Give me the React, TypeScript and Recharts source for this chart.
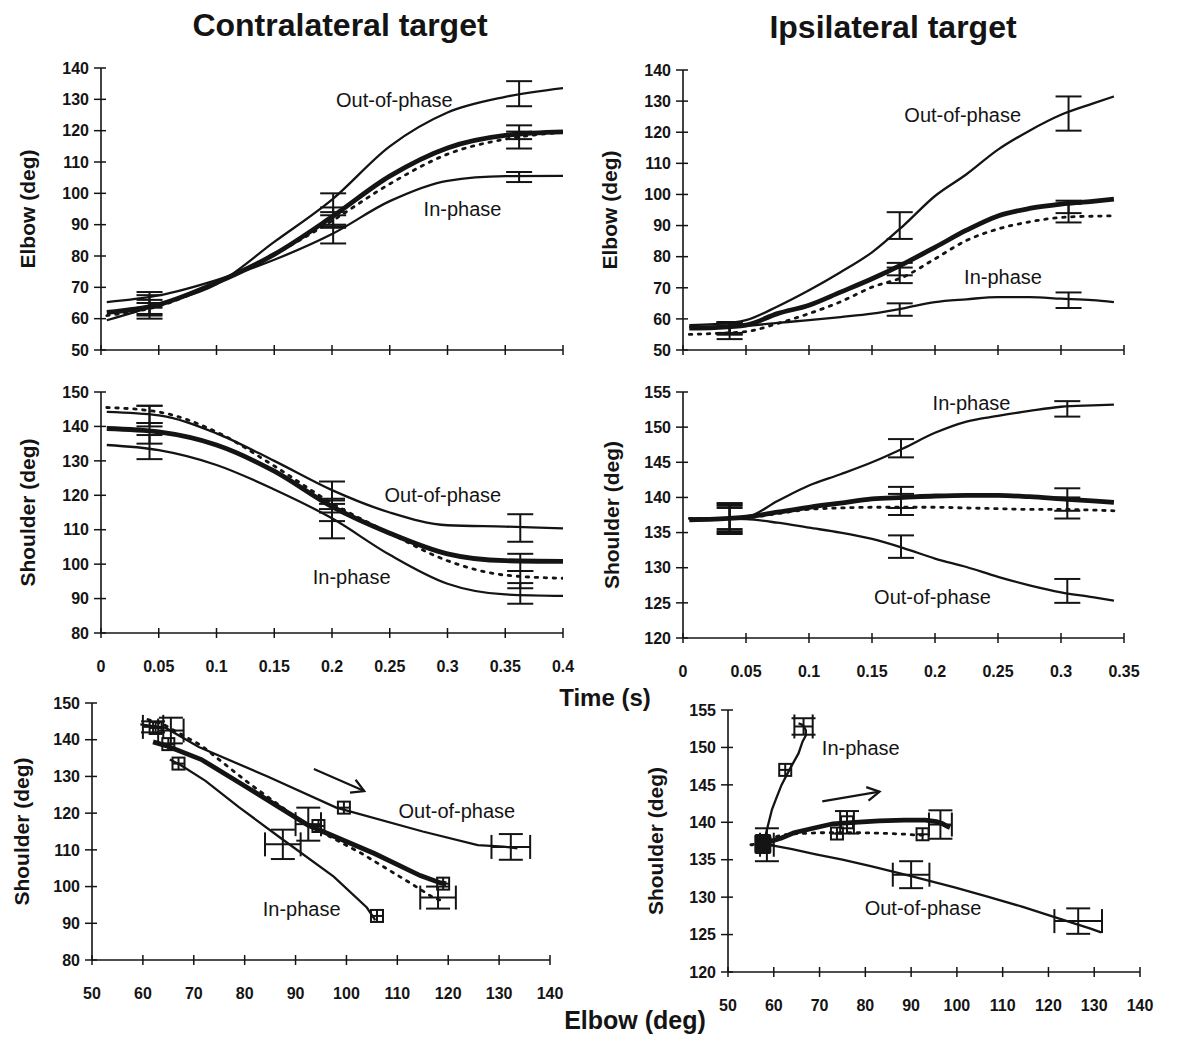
import React from "react";
import {
  ComposedChart,
  ErrorBar,
  Label,
  Line,
  ReferenceDot,
  Scatter,
  XAxis,
  YAxis,
} from "recharts";

const INK = "#141414";
const FONT = "'Liberation Sans', Arial, sans-serif";

// ---- time bases (s)
const contraTime = [0.005, 0.05, 0.1, 0.15, 0.2, 0.25, 0.3, 0.35, 0.4];
const ipsiTime = [
  0.005, 0.025, 0.05, 0.075, 0.1, 0.125, 0.15, 0.175, 0.2, 0.225, 0.25, 0.275,
  0.3, 0.325, 0.342,
];

// ---- contralateral target
const contraElbowOut = [59.5, 64.5, 71, 84.5, 98, 115, 125.8, 130.8, 133.6];
const contraElbowIn = [65.3, 67.4, 72.3, 78.8, 87, 97.5, 104, 105.5, 105.6];
const contraElbowThick = [62, 64.5, 71.5, 80.5, 92.5, 105.5, 114.5, 118.5, 119.6];
const contraElbowDot = [61, 64, 71.5, 80.5, 91.2, 103, 112.5, 117.3, 119.5];

const contraShoulderOut = [144.2, 143.2, 138, 130, 121.5, 115, 111.3, 110.9, 110.4];
const contraShoulderIn = [134.6, 133.1, 128.8, 121.7, 113.3, 102.7, 94.3, 91.2, 90.8];
const contraShoulderThick = [139.4, 138.4, 134.6, 127, 116.7, 109, 103, 101, 100.8];
const contraShoulderDot = [145.5, 144.2, 138.4, 128.5, 117.7, 109, 101, 96.8, 95.9];

// [time, mean, sd]
const contraElbowBars = [
  [0.042, 62.5, 2.5], [0.042, 66, 2.5], [0.042, 64.5, 3], [0.042, 63.5, 2.5],
  [0.201, 97, 3], [0.201, 92.5, 3], [0.201, 91, 2], [0.201, 87, 3],
  [0.362, 131.8, 4], [0.362, 119.5, 2.2], [0.362, 117, 2.7], [0.362, 105.2, 1.6],
];
const contraShoulderBars = [
  [0.042, 143, 3], [0.042, 143.5, 2.5], [0.042, 138, 3], [0.042, 134, 3.5],
  [0.2, 120, 4], [0.2, 117, 2], [0.2, 115.5, 3], [0.2, 112.5, 5],
  [0.363, 110.5, 4], [0.363, 100.5, 2.5], [0.363, 95.5, 2.5], [0.363, 91.5, 3],
];

// ---- ipsilateral target
const ipsiElbowOut = [58, 58.3, 59.6, 64, 69.2, 75, 81.4, 90, 99.5, 106.5, 114.4, 120.5, 125.6, 129.2, 131.5];
const ipsiElbowIn = [57.4, 57.5, 57.8, 58.7, 59.6, 60.6, 61.7, 63.4, 65.4, 66.3, 67, 67, 66.5, 66, 65.4];
const ipsiElbowThick = [57, 57.2, 58, 61.7, 64.4, 68.6, 72.9, 77.7, 83, 88.5, 93.1, 95.5, 96.9, 97.8, 98.5];
const ipsiElbowDot = [55, 55.3, 55.9, 58.5, 61.7, 65.5, 70.2, 73.5, 79.3, 85.2, 88.9, 91.2, 92.6, 93, 93.1];

const ipsiShoulderIn = [136.9, 137, 137.2, 139.5, 141.7, 143.3, 145, 147, 149.2, 150.8, 151.6, 152.3, 152.9, 153.1, 153.2];
const ipsiShoulderThick = [136.8, 136.9, 137.2, 137.9, 138.6, 139.2, 139.8, 140, 140.2, 140.3, 140.3, 140.1, 139.8, 139.5, 139.3];
const ipsiShoulderDot = [137, 137, 137.1, 137.7, 138.3, 138.5, 138.6, 138.6, 138.6, 138.5, 138.4, 138.3, 138.3, 138.2, 138.1];
const ipsiShoulderOut = [137, 137, 136.9, 136.4, 135.7, 135, 134.1, 132.8, 131.3, 130.1, 128.7, 127.5, 126.5, 125.8, 125.3];

const ipsiElbowBars = [
  [0.037, 57, 2], [0.037, 57, 2], [0.037, 56, 2.5], [0.037, 57, 1.5],
  [0.172, 90, 4.3], [0.172, 76, 2], [0.172, 74, 2.5], [0.172, 63, 2],
  [0.306, 126, 5.5], [0.306, 96, 2], [0.306, 94, 3], [0.306, 66, 2.5],
];
const ipsiShoulderBars = [
  [0.037, 137, 2], [0.037, 137, 2.2], [0.037, 137, 1.5], [0.037, 137, 1.8],
  [0.173, 147, 1.3], [0.173, 140, 1.5], [0.173, 139, 1.5], [0.173, 133, 1.6],
  [0.305, 152.6, 1.1], [0.305, 139.7, 1.6], [0.305, 138.5, 1.5], [0.305, 126.7, 1.7],
];

// ---- shoulder vs elbow markers: [elbow, shoulder, sdElbow, sdShoulder] / boxes [elbow, shoulder]
const contraLoopCross = [
  [65.5, 142.5, 2.5, 3.5], [62, 143.5, 2, 1.5], [87.5, 111.5, 3.5, 4],
  [92.5, 117, 2.5, 4.5], [118, 97, 3.5, 3], [132.3, 110.8, 3.8, 3.5],
];
const contraLoopBoxes = [
  [62.5, 143.2], [65, 138.8], [67, 133.5], [99.5, 121.5], [94.5, 116.5], [119, 100.8], [106, 92],
];
const ipsiLoopCross = [
  [58.5, 137, 1.5, 2.2], [66.5, 152.8, 2, 1.1], [76, 140, 1.5, 1.5],
  [96.4, 139.7, 2.5, 1.9], [90, 133, 4, 1.8], [126.5, 126.8, 5.2, 1.7],
];
const ipsiLoopBoxes = [
  [62.5, 147], [73.8, 138.5], [76, 140], [92.5, 138.4],
];
const ipsiLoopSolid = [[57.5, 137.1]];

// ---- axes
const timeTicksContra = [0, 0.05, 0.1, 0.15, 0.2, 0.25, 0.3, 0.35, 0.4];
const timeTicksIpsi = [0, 0.05, 0.1, 0.15, 0.2, 0.25, 0.3, 0.35];
const elbowTicks = [50, 60, 70, 80, 90, 100, 110, 120, 130, 140];
const contraShoulderTicks = [80, 90, 100, 110, 120, 130, 140, 150];
const ipsiShoulderTicks = [120, 125, 130, 135, 140, 145, 150, 155];

// ---- direction arrows [elbow, shoulder]
const contraArrow = [[93.6, 132], [103.5, 126]];
const contraArrowHead = [[101.8, 129.1], [103.5, 126], [100.7, 125.6]];
const ipsiArrow = [[70.6, 142.8], [83.1, 144.1]];
const ipsiArrowHead = [[80.2, 144.7], [83.1, 144.1], [80.7, 142.9]];

const pairs = (xs: number[], ys: number[]) => xs.map((x, i) => ({ x, y: ys[i] }));
const pts = (rows: number[][]) => rows.map(([x, y]) => ({ x, y }));
const bars = (rows: number[][]) => rows.map(([x, y, ey]) => ({ x, y, ey }));
const crosses = (rows: number[][]) => rows.map(([x, y, ex, ey]) => ({ x, y, ex, ey }));

type Kind = "thin" | "thick" | "dot";
type Note = { x: number; y: number; text: string };
type PanelProps = {
  left: number;
  top: number;
  width: number;
  height: number;
  plot: [number, number, number, number]; // x0, y0, x1, y1 in page px
  xDomain: [number, number];
  xTicks: number[];
  xLabels: boolean;
  yDomain: [number, number];
  yTicks: number[];
  yTitle: string;
  yTitleX: number;
  curve: "monotone" | "linear";
  series: { data: { x: number; y: number }[]; kind: Kind }[];
  bars?: { x: number; y: number; ey: number }[];
  crosses?: { x: number; y: number; ex: number; ey: number }[];
  boxes?: { x: number; y: number }[];
  solid?: { x: number; y: number }[];
  notes: Note[];
  arrow?: { x: number; y: number }[][];
};

const strokeFor: Record<Kind, any> = {
  thin: { strokeWidth: 2.3 },
  thick: { strokeWidth: 4.8 },
  dot: { strokeWidth: 2.8, strokeDasharray: "2.5 6.5", strokeLinecap: "round" },
};

const XTick = (showLabel: boolean) => (props: any) => {
  const { x, y, payload } = props;
  return (
    <g>
      <line x1={x} x2={x} y1={y - 5} y2={y + 5} stroke={INK} strokeWidth={1.5} />
      {showLabel && (
        <text x={x} y={y + 39} textAnchor="middle" fontFamily={FONT} fontWeight="bold" fontSize={16} fill={INK}>
          {payload.value}
        </text>
      )}
    </g>
  );
};

const YTick = (props: any) => {
  const { x, y, payload } = props;
  return (
    <g>
      <line x1={x - 7} x2={x + 5} y1={y} y2={y} stroke={INK} strokeWidth={1.5} />
      <text x={x - 12} y={y} dy="0.36em" textAnchor="end" fontFamily={FONT} fontWeight="bold" fontSize={16} fill={INK}>
        {payload.value}
      </text>
    </g>
  );
};

const BoxMark = (props: any) => {
  const { cx, cy } = props;
  if (cx == null || cy == null) return <g />;
  return (
    <g stroke={INK} strokeWidth={2} fill="none">
      <rect x={cx - 6} y={cy - 6} width={12} height={12} />
      <line x1={cx - 6} x2={cx + 6} y1={cy} y2={cy} />
      <line x1={cx} x2={cx} y1={cy - 6} y2={cy + 6} />
    </g>
  );
};

const SolidMark = (props: any) => {
  const { cx, cy } = props;
  if (cx == null || cy == null) return <g />;
  return <rect x={cx - 8} y={cy - 10} width={17} height={20} rx={2} fill={INK} />;
};

const NoMark = () => <g />;

function Panel(p: PanelProps) {
  const [x0, y0, x1, y1] = p.plot;
  const yAxisWidth = x0 - p.left;
  const xAxisHeight = p.top + p.height - y1;
  return (
    <div style={{ position: "absolute", left: p.left, top: p.top }}>
      <ComposedChart
        width={p.width}
        height={p.height}
        margin={{ top: y0 - p.top, right: p.left + p.width - x1, bottom: 0, left: 0 }}
      >
        <XAxis
          type="number"
          dataKey="x"
          domain={p.xDomain}
          ticks={p.xTicks}
          interval={0}
          allowDataOverflow
          height={xAxisHeight}
          tickSize={0}
          tickMargin={0}
          tickLine={false}
          tick={XTick(p.xLabels)}
          axisLine={{ stroke: INK, strokeWidth: 1.6 }}
        />
        <YAxis
          type="number"
          dataKey="y"
          domain={p.yDomain}
          ticks={p.yTicks}
          interval={0}
          allowDataOverflow
          width={yAxisWidth}
          tickSize={0}
          tickMargin={0}
          tickLine={false}
          tick={YTick}
          axisLine={{ stroke: INK, strokeWidth: 1.6 }}
        >
          <Label
            value={p.yTitle}
            angle={-90}
            position="insideLeft"
            offset={p.yTitleX}
            fontFamily={FONT}
            fontWeight="bold"
            fontSize={21}
            fill={INK}
            style={{ textAnchor: "middle" }}
          />
        </YAxis>
        {p.series.map((s, i) => (
          <Line
            key={i}
            data={s.data}
            dataKey="y"
            type={p.curve}
            stroke={INK}
            {...strokeFor[s.kind]}
            dot={false}
            activeDot={false}
            isAnimationActive={false}
          />
        ))}
        {p.arrow &&
          p.arrow.map((a, i) => (
            <Line
              key={"arrow" + i}
              data={a}
              dataKey="y"
              type="linear"
              stroke={INK}
              strokeWidth={2.2}
              dot={false}
              activeDot={false}
              isAnimationActive={false}
            />
          ))}
        {p.solid && <Scatter data={p.solid} dataKey="y" shape={SolidMark} isAnimationActive={false} />}
        {p.bars && (
          <Scatter data={p.bars} dataKey="y" shape={NoMark} isAnimationActive={false}>
            <ErrorBar dataKey="ey" direction="y" width={13} stroke={INK} strokeWidth={2} />
          </Scatter>
        )}
        {p.crosses && (
          <Scatter data={p.crosses} dataKey="y" shape={NoMark} isAnimationActive={false}>
            <ErrorBar dataKey="ey" direction="y" width={12} stroke={INK} strokeWidth={2} />
            <ErrorBar dataKey="ex" direction="x" width={12} stroke={INK} strokeWidth={2} />
          </Scatter>
        )}
        {p.boxes && <Scatter data={p.boxes} dataKey="y" shape={BoxMark} isAnimationActive={false} />}
        {p.notes.map((n, i) => (
          <ReferenceDot key={"n" + i} x={n.x} y={n.y} r={0} fill="none" stroke="none">
            <Label value={n.text} position="center" fontFamily={FONT} fontSize={20} fill={INK} />
          </ReferenceDot>
        ))}
      </ComposedChart>
    </div>
  );
}

const bigText = (extra: React.CSSProperties): React.CSSProperties => ({
  position: "absolute",
  fontFamily: FONT,
  fontWeight: "bold",
  color: INK,
  whiteSpace: "nowrap",
  transform: "translate(-50%, -50%)",
  lineHeight: 1,
  ...extra,
});

export default function App() {
  return (
    <div style={{ position: "absolute", left: 0, top: 0, width: 1177, height: 1037, background: "#fff", overflow: "hidden" }}>
      <div style={bigText({ left: 340, top: 25, fontSize: 32 })}>Contralateral target</div>
      <div style={bigText({ left: 893, top: 27, fontSize: 32 })}>Ipsilateral target</div>
      <div style={bigText({ left: 605, top: 698, fontSize: 24 })}>Time (s)</div>
      <div style={bigText({ left: 635, top: 1020, fontSize: 25 })}>Elbow (deg)</div>

      <Panel
        left={0} top={40} width={590} height={330}
        plot={[101, 68, 563, 350]}
        xDomain={[0, 0.4]} xTicks={timeTicksContra} xLabels={false}
        yDomain={[50, 140]} yTicks={elbowTicks}
        yTitle="Elbow (deg)" yTitleX={28}
        curve="monotone"
        series={[
          { data: pairs(contraTime, contraElbowOut), kind: "thin" },
          { data: pairs(contraTime, contraElbowIn), kind: "thin" },
          { data: pairs(contraTime, contraElbowDot), kind: "dot" },
          { data: pairs(contraTime, contraElbowThick), kind: "thick" },
        ]}
        bars={bars(contraElbowBars)}
        notes={[
          { x: 0.254, y: 129.9, text: "Out-of-phase" },
          { x: 0.313, y: 95, text: "In-phase" },
        ]}
      />
      <Panel
        left={590} top={40} width={587} height={330}
        plot={[683, 70, 1124, 350]}
        xDomain={[0, 0.35]} xTicks={timeTicksIpsi} xLabels={false}
        yDomain={[50, 140]} yTicks={elbowTicks}
        yTitle="Elbow (deg)" yTitleX={20}
        curve="monotone"
        series={[
          { data: pairs(ipsiTime, ipsiElbowOut), kind: "thin" },
          { data: pairs(ipsiTime, ipsiElbowIn), kind: "thin" },
          { data: pairs(ipsiTime, ipsiElbowDot), kind: "dot" },
          { data: pairs(ipsiTime, ipsiElbowThick), kind: "thick" },
        ]}
        bars={bars(ipsiElbowBars)}
        notes={[
          { x: 0.222, y: 125.6, text: "Out-of-phase" },
          { x: 0.254, y: 73.4, text: "In-phase" },
        ]}
      />
      <Panel
        left={0} top={375} width={590} height={310}
        plot={[101, 392, 563, 633]}
        xDomain={[0, 0.4]} xTicks={timeTicksContra} xLabels
        yDomain={[80, 150]} yTicks={contraShoulderTicks}
        yTitle="Shoulder (deg)" yTitleX={28}
        curve="monotone"
        series={[
          { data: pairs(contraTime, contraShoulderOut), kind: "thin" },
          { data: pairs(contraTime, contraShoulderIn), kind: "thin" },
          { data: pairs(contraTime, contraShoulderDot), kind: "dot" },
          { data: pairs(contraTime, contraShoulderThick), kind: "thick" },
        ]}
        bars={bars(contraShoulderBars)}
        notes={[
          { x: 0.296, y: 120, text: "Out-of-phase" },
          { x: 0.217, y: 96.4, text: "In-phase" },
        ]}
      />
      <Panel
        left={590} top={375} width={587} height={310}
        plot={[683, 392, 1124, 638]}
        xDomain={[0, 0.35]} xTicks={timeTicksIpsi} xLabels
        yDomain={[120, 155]} yTicks={ipsiShoulderTicks}
        yTitle="Shoulder (deg)" yTitleX={22}
        curve="monotone"
        series={[
          { data: pairs(ipsiTime, ipsiShoulderOut), kind: "thin" },
          { data: pairs(ipsiTime, ipsiShoulderIn), kind: "thin" },
          { data: pairs(ipsiTime, ipsiShoulderDot), kind: "dot" },
          { data: pairs(ipsiTime, ipsiShoulderThick), kind: "thick" },
        ]}
        bars={bars(ipsiShoulderBars)}
        notes={[
          { x: 0.229, y: 153.5, text: "In-phase" },
          { x: 0.198, y: 125.8, text: "Out-of-phase" },
        ]}
      />
      <Panel
        left={0} top={690} width={580} height={340}
        plot={[92, 703, 550, 960]}
        xDomain={[50, 140]} xTicks={elbowTicks} xLabels
        yDomain={[80, 150]} yTicks={contraShoulderTicks}
        yTitle="Shoulder (deg)" yTitleX={22}
        curve="linear"
        series={[
          { data: pairs(contraElbowOut, contraShoulderOut), kind: "thin" },
          { data: pairs(contraElbowIn, contraShoulderIn), kind: "thin" },
          { data: pairs(contraElbowDot, contraShoulderDot), kind: "dot" },
          { data: pairs(contraElbowThick, contraShoulderThick), kind: "thick" },
        ]}
        crosses={crosses(contraLoopCross)}
        boxes={pts(contraLoopBoxes)}
        arrow={[pts(contraArrow), pts(contraArrowHead)]}
        notes={[
          { x: 121.7, y: 120.5, text: "Out-of-phase" },
          { x: 91.2, y: 94, text: "In-phase" },
        ]}
      />
      <Panel
        left={630} top={695} width={547} height={335}
        plot={[728, 710, 1140, 972]}
        xDomain={[50, 140]} xTicks={elbowTicks} xLabels
        yDomain={[120, 155]} yTicks={ipsiShoulderTicks}
        yTitle="Shoulder (deg)" yTitleX={26}
        curve="linear"
        series={[
          { data: pairs(ipsiElbowOut, ipsiShoulderOut), kind: "thin" },
          { data: pairs(ipsiElbowIn, ipsiShoulderIn), kind: "thin" },
          { data: pairs(ipsiElbowDot, ipsiShoulderDot), kind: "dot" },
          { data: pairs(ipsiElbowThick, ipsiShoulderThick), kind: "thick" },
        ]}
        crosses={crosses(ipsiLoopCross)}
        boxes={pts(ipsiLoopBoxes)}
        solid={pts(ipsiLoopSolid)}
        arrow={[pts(ipsiArrow), pts(ipsiArrowHead)]}
        notes={[
          { x: 79, y: 150, text: "In-phase" },
          { x: 92.6, y: 128.5, text: "Out-of-phase" },
        ]}
      />
    </div>
  );
}
